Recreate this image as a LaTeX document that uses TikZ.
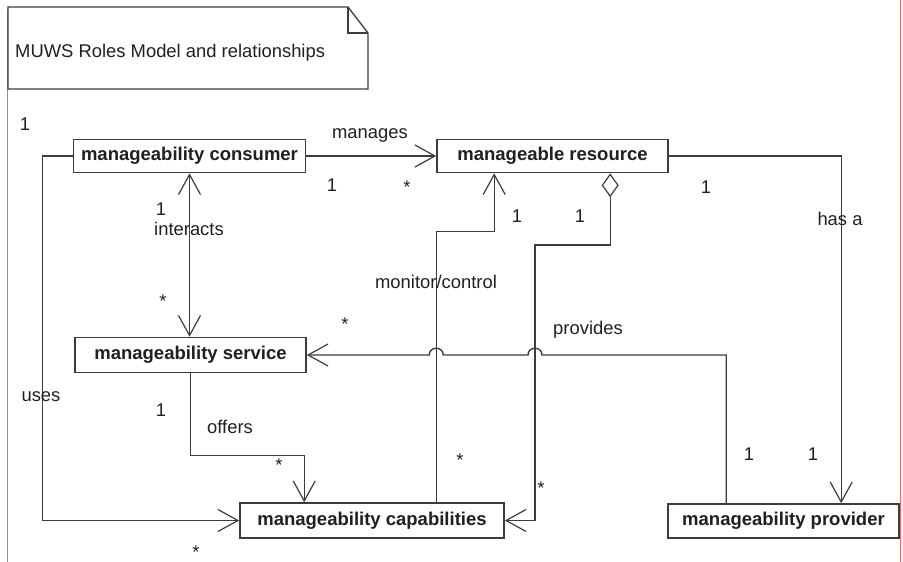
\documentclass[tikz,border=0pt]{standalone}
\usepackage{fontspec}
\setmainfont{Liberation Sans}
\usetikzlibrary{arrows.meta,calc}
\definecolor{linec}{HTML}{3C3C3C}
\definecolor{textc}{HTML}{202020}
\definecolor{redc}{HTML}{E87070}
\begin{document}
\begin{tikzpicture}[x=1pt,y=-1pt,
  cls/.style={draw=linec, line width=1.6pt, fill=white, font=\fontsize{18.5}{20}\selectfont\bfseries, inner sep=0pt, text=textc},
  lbl/.style={font=\fontsize{18.4}{20}\selectfont, text=textc, inner sep=0pt, anchor=base},
  conn/.style={draw=linec, line width=1.4pt},
  barb/.tip={Straight Barb[length=20pt,width=22pt,line width=1.2pt]},
  arr/.style={conn, -barb},
  notec/.style={draw=linec, line width=1.3pt, fill=white}]
\useasboundingbox (0,0) rectangle (903,562);
% page edge marks
\draw[redc, line width=1pt] (7,9) -- (7,562);
\draw[redc, line width=1pt] (900,0) -- (900,562);
% note
\draw[notec] (8,7) -- (348,7) -- (368,33) -- (368,89) -- (8,89) -- cycle;
\draw[notec, fill=none] (348,7) -- (348,33) -- (368,33);
\node[lbl, anchor=base west] (title) at (15,57) {MUWS Roles Model and relationships};
% classes
\node[cls, minimum width=232pt, minimum height=33pt] (cons) at (189.5,156) {manageability consumer};
\node[cls, minimum width=231pt, minimum height=33pt] (res) at (552.5,156) {manageable resource};
\node[cls, minimum width=231pt, minimum height=35pt] (serv) at (190.5,355) {manageability service};
\node[cls, minimum width=264pt, minimum height=35pt] (cap) at (372,520.5) {manageability capabilities};
\node[cls, minimum width=231pt, minimum height=34pt] (prov) at (783.5,521) {manageability provider};
% helper coordinates on class borders
\coordinate (mc1) at ($(cap.north west)+(197,0)$);
\coordinate (mc2) at ($(res.south west)+(58,0)$);
\coordinate (d1) at ($(res.south west)+(174,0)$);
\coordinate (dk) at (535,245);
\coordinate (of2) at ($(cap.north west)+(65,0)$);
\coordinate (hp) at ($(prov.north west)+(174,0)$);
\coordinate (pv) at ($(prov.north west)+(59,0)$);
\coordinate (j1) at (mc1 |- serv.east);
\coordinate (j2) at (dk |- serv.east);
% connectors
\draw[arr] (cons.east) -- (res.west);
\draw[conn, barb-barb] (cons.south) -- (cons.south |- serv.north);
\draw[arr] (cons.west) -- ++(-30,0) |- (cap.west);
\draw[arr] (serv.south) -- ++(0,82) -| (of2);
\draw[arr] (mc1) -- ++(0,-271) -| (mc2);
\draw[conn, {Diamond[open,length=24pt,width=17pt,line width=1.2pt]}-barb] (d1) |- (dk) -- (dk |- cap.east) -- (cap.east);
\draw[arr] (res.east) -| (hp);
\draw[arr] (pv) -- (pv |- serv.east) -- ($(j2)+(7,0)$)
  .. controls ($(j2)+(7,-9)$) and ($(j2)+(-7,-9)$) .. ($(j2)+(-7,0)$)
  -- ($(j1)+(7,0)$)
  .. controls ($(j1)+(7,-9)$) and ($(j1)+(-7,-9)$) .. ($(j1)+(-7,0)$)
  -- (serv.east);
% labels
\node[lbl] (l1) at (25,130) {1};
\node[lbl] (lmanages) at (370,138) {manages};
\node[lbl] (l2) at (332,191) {1};
\node[lbl] (l3) at (407,193) {*};
\node[lbl] (l4) at (161,215) {1};
\node[lbl] (linteracts) at (189,235) {interacts};
\node[lbl] (l5) at (163,307) {*};
\node[lbl] (l6) at (517,222) {1};
\node[lbl] (l7) at (580,222) {1};
\node[lbl] (l8) at (706,193) {1};
\node[lbl] (lhasa) at (840,225) {has a};
\node[lbl] (lmon) at (436,288) {monitor/control};
\node[lbl] (lprov) at (588,334) {provides};
\node[lbl] (l9) at (345,330) {*};
\node[lbl] (luses) at (41,401) {uses};
\node[lbl] (l10) at (161,416) {1};
\node[lbl] (loffers) at (230,433) {offers};
\node[lbl] (l11) at (279,471) {*};
\node[lbl] (l12) at (460,466) {*};
\node[lbl] (l13) at (541,494) {*};
\node[lbl] (l14) at (749,460) {1};
\node[lbl] (l15) at (813,460) {1};
\node[lbl] (l16) at (196,558) {*};
\end{tikzpicture}
\end{document}
